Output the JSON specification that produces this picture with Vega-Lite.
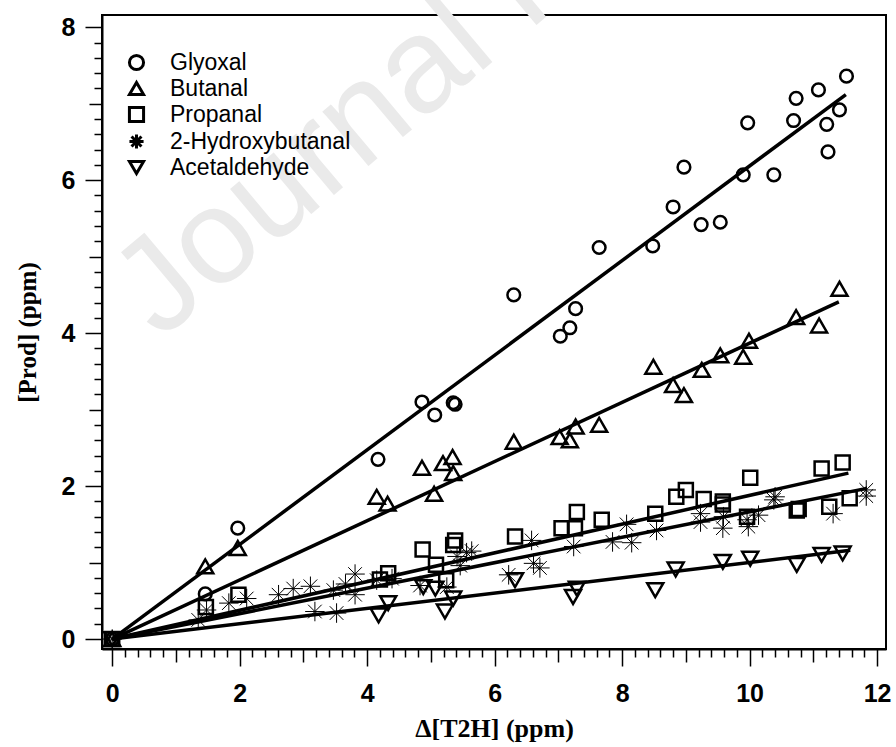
{
  "$schema": "https://vega.github.io/schema/vega-lite/v6.json",
  "width": 784,
  "height": 634,
  "autosize": "none",
  "padding": {"left": 102, "top": 15, "right": 10, "bottom": 98},
  "background": "white",
  "datasets": {
    "watermark": [{"label": "Journal Pre-proof", "x": 0.75, "y": 3.9}],
    "fits": [
      {"series": "Glyoxal", "x": 0, "y": 0}, {"series": "Glyoxal", "x": 11.51, "y": 7.12},
      {"series": "Butanal", "x": 0, "y": 0}, {"series": "Butanal", "x": 11.40, "y": 4.41},
      {"series": "Propanal", "x": 0, "y": 0}, {"series": "Propanal", "x": 11.55, "y": 2.17},
      {"series": "2-Hydroxybutanal", "x": 0, "y": 0}, {"series": "2-Hydroxybutanal", "x": 11.84, "y": 1.97},
      {"series": "Acetaldehyde", "x": 0, "y": 0}, {"series": "Acetaldehyde", "x": 11.58, "y": 1.16}
    ],
    "points": [
      {"series": "Glyoxal", "x": 0, "y": 0},
      {"series": "Glyoxal", "x": 1.46, "y": 0.59},
      {"series": "Glyoxal", "x": 1.97, "y": 1.45},
      {"series": "Glyoxal", "x": 4.17, "y": 2.35},
      {"series": "Glyoxal", "x": 4.86, "y": 3.10},
      {"series": "Glyoxal", "x": 5.06, "y": 2.93},
      {"series": "Glyoxal", "x": 5.35, "y": 3.09},
      {"series": "Glyoxal", "x": 5.38, "y": 3.07},
      {"series": "Glyoxal", "x": 6.30, "y": 4.50},
      {"series": "Glyoxal", "x": 7.03, "y": 3.96},
      {"series": "Glyoxal", "x": 7.18, "y": 4.07},
      {"series": "Glyoxal", "x": 7.27, "y": 4.32},
      {"series": "Glyoxal", "x": 7.64, "y": 5.12},
      {"series": "Glyoxal", "x": 8.48, "y": 5.14},
      {"series": "Glyoxal", "x": 8.80, "y": 5.65},
      {"series": "Glyoxal", "x": 8.97, "y": 6.17},
      {"series": "Glyoxal", "x": 9.24, "y": 5.42},
      {"series": "Glyoxal", "x": 9.54, "y": 5.45},
      {"series": "Glyoxal", "x": 9.90, "y": 6.07},
      {"series": "Glyoxal", "x": 9.97, "y": 6.75},
      {"series": "Glyoxal", "x": 10.38, "y": 6.07},
      {"series": "Glyoxal", "x": 10.69, "y": 6.78},
      {"series": "Glyoxal", "x": 10.73, "y": 7.07},
      {"series": "Glyoxal", "x": 11.08, "y": 7.18},
      {"series": "Glyoxal", "x": 11.21, "y": 6.73},
      {"series": "Glyoxal", "x": 11.23, "y": 6.37},
      {"series": "Glyoxal", "x": 11.41, "y": 6.92},
      {"series": "Glyoxal", "x": 11.52, "y": 7.36},
      {"series": "Butanal", "x": 0, "y": 0},
      {"series": "Butanal", "x": 1.46, "y": 0.95},
      {"series": "Butanal", "x": 1.97, "y": 1.19},
      {"series": "Butanal", "x": 4.15, "y": 1.86},
      {"series": "Butanal", "x": 4.32, "y": 1.77},
      {"series": "Butanal", "x": 4.86, "y": 2.24},
      {"series": "Butanal", "x": 5.05, "y": 1.90},
      {"series": "Butanal", "x": 5.19, "y": 2.30},
      {"series": "Butanal", "x": 5.34, "y": 2.38},
      {"series": "Butanal", "x": 5.35, "y": 2.17},
      {"series": "Butanal", "x": 6.30, "y": 2.58},
      {"series": "Butanal", "x": 7.02, "y": 2.64},
      {"series": "Butanal", "x": 7.18, "y": 2.60},
      {"series": "Butanal", "x": 7.27, "y": 2.78},
      {"series": "Butanal", "x": 7.64, "y": 2.80},
      {"series": "Butanal", "x": 8.49, "y": 3.56},
      {"series": "Butanal", "x": 8.80, "y": 3.32},
      {"series": "Butanal", "x": 8.97, "y": 3.19},
      {"series": "Butanal", "x": 9.25, "y": 3.52},
      {"series": "Butanal", "x": 9.54, "y": 3.71},
      {"series": "Butanal", "x": 9.90, "y": 3.69},
      {"series": "Butanal", "x": 9.99, "y": 3.90},
      {"series": "Butanal", "x": 10.73, "y": 4.21},
      {"series": "Butanal", "x": 11.09, "y": 4.10},
      {"series": "Butanal", "x": 11.41, "y": 4.58},
      {"series": "Propanal", "x": 0, "y": 0},
      {"series": "Propanal", "x": 1.47, "y": 0.42},
      {"series": "Propanal", "x": 1.98, "y": 0.58},
      {"series": "Propanal", "x": 4.20, "y": 0.78},
      {"series": "Propanal", "x": 4.33, "y": 0.86},
      {"series": "Propanal", "x": 4.87, "y": 1.17},
      {"series": "Propanal", "x": 5.08, "y": 0.97},
      {"series": "Propanal", "x": 5.24, "y": 0.77},
      {"series": "Propanal", "x": 5.35, "y": 1.23},
      {"series": "Propanal", "x": 5.38, "y": 1.29},
      {"series": "Propanal", "x": 6.32, "y": 1.34},
      {"series": "Propanal", "x": 7.05, "y": 1.45},
      {"series": "Propanal", "x": 7.26, "y": 1.45},
      {"series": "Propanal", "x": 7.29, "y": 1.66},
      {"series": "Propanal", "x": 7.68, "y": 1.56},
      {"series": "Propanal", "x": 8.52, "y": 1.64},
      {"series": "Propanal", "x": 8.85, "y": 1.86},
      {"series": "Propanal", "x": 9.00, "y": 1.95},
      {"series": "Propanal", "x": 9.28, "y": 1.83},
      {"series": "Propanal", "x": 9.58, "y": 1.80},
      {"series": "Propanal", "x": 9.58, "y": 1.76},
      {"series": "Propanal", "x": 9.96, "y": 1.60},
      {"series": "Propanal", "x": 10.01, "y": 2.11},
      {"series": "Propanal", "x": 10.74, "y": 1.68},
      {"series": "Propanal", "x": 10.77, "y": 1.70},
      {"series": "Propanal", "x": 11.13, "y": 2.23},
      {"series": "Propanal", "x": 11.25, "y": 1.73},
      {"series": "Propanal", "x": 11.46, "y": 2.31},
      {"series": "Propanal", "x": 11.57, "y": 1.84},
      {"series": "2-Hydroxybutanal", "x": 0, "y": 0},
      {"series": "2-Hydroxybutanal", "x": 1.35, "y": 0.25},
      {"series": "2-Hydroxybutanal", "x": 1.48, "y": 0.38},
      {"series": "2-Hydroxybutanal", "x": 1.83, "y": 0.47},
      {"series": "2-Hydroxybutanal", "x": 2.11, "y": 0.53},
      {"series": "2-Hydroxybutanal", "x": 2.61, "y": 0.58},
      {"series": "2-Hydroxybutanal", "x": 2.84, "y": 0.66},
      {"series": "2-Hydroxybutanal", "x": 3.11, "y": 0.69},
      {"series": "2-Hydroxybutanal", "x": 3.18, "y": 0.36},
      {"series": "2-Hydroxybutanal", "x": 3.47, "y": 0.64},
      {"series": "2-Hydroxybutanal", "x": 3.52, "y": 0.34},
      {"series": "2-Hydroxybutanal", "x": 3.66, "y": 0.72},
      {"series": "2-Hydroxybutanal", "x": 3.81, "y": 0.58},
      {"series": "2-Hydroxybutanal", "x": 3.81, "y": 0.85},
      {"series": "2-Hydroxybutanal", "x": 4.15, "y": 0.77},
      {"series": "2-Hydroxybutanal", "x": 4.39, "y": 0.79},
      {"series": "2-Hydroxybutanal", "x": 4.83, "y": 0.70},
      {"series": "2-Hydroxybutanal", "x": 5.25, "y": 0.68},
      {"series": "2-Hydroxybutanal", "x": 5.41, "y": 1.08},
      {"series": "2-Hydroxybutanal", "x": 5.46, "y": 0.96},
      {"series": "2-Hydroxybutanal", "x": 5.56, "y": 1.13},
      {"series": "2-Hydroxybutanal", "x": 5.64, "y": 1.15},
      {"series": "2-Hydroxybutanal", "x": 6.22, "y": 0.84},
      {"series": "2-Hydroxybutanal", "x": 6.58, "y": 1.29},
      {"series": "2-Hydroxybutanal", "x": 6.61, "y": 0.99},
      {"series": "2-Hydroxybutanal", "x": 6.71, "y": 0.93},
      {"series": "2-Hydroxybutanal", "x": 7.24, "y": 1.21},
      {"series": "2-Hydroxybutanal", "x": 7.85, "y": 1.27},
      {"series": "2-Hydroxybutanal", "x": 8.07, "y": 1.50},
      {"series": "2-Hydroxybutanal", "x": 8.15, "y": 1.26},
      {"series": "2-Hydroxybutanal", "x": 8.54, "y": 1.42},
      {"series": "2-Hydroxybutanal", "x": 9.23, "y": 1.64},
      {"series": "2-Hydroxybutanal", "x": 9.23, "y": 1.53},
      {"series": "2-Hydroxybutanal", "x": 9.58, "y": 1.45},
      {"series": "2-Hydroxybutanal", "x": 9.59, "y": 1.60},
      {"series": "2-Hydroxybutanal", "x": 9.96, "y": 1.56},
      {"series": "2-Hydroxybutanal", "x": 9.98, "y": 1.47},
      {"series": "2-Hydroxybutanal", "x": 10.14, "y": 1.62},
      {"series": "2-Hydroxybutanal", "x": 10.38, "y": 1.82},
      {"series": "2-Hydroxybutanal", "x": 10.40, "y": 1.86},
      {"series": "2-Hydroxybutanal", "x": 11.31, "y": 1.64},
      {"series": "2-Hydroxybutanal", "x": 11.83, "y": 1.87},
      {"series": "2-Hydroxybutanal", "x": 11.83, "y": 1.95},
      {"series": "Acetaldehyde", "x": 0, "y": 0},
      {"series": "Acetaldehyde", "x": 4.18, "y": 0.31},
      {"series": "Acetaldehyde", "x": 4.33, "y": 0.47},
      {"series": "Acetaldehyde", "x": 4.88, "y": 0.68},
      {"series": "Acetaldehyde", "x": 5.07, "y": 0.66},
      {"series": "Acetaldehyde", "x": 5.22, "y": 0.36},
      {"series": "Acetaldehyde", "x": 5.35, "y": 0.53},
      {"series": "Acetaldehyde", "x": 6.32, "y": 0.77},
      {"series": "Acetaldehyde", "x": 7.23, "y": 0.55},
      {"series": "Acetaldehyde", "x": 7.29, "y": 0.66},
      {"series": "Acetaldehyde", "x": 8.52, "y": 0.64},
      {"series": "Acetaldehyde", "x": 8.84, "y": 0.91},
      {"series": "Acetaldehyde", "x": 9.58, "y": 1.01},
      {"series": "Acetaldehyde", "x": 10.01, "y": 1.05},
      {"series": "Acetaldehyde", "x": 10.74, "y": 0.97},
      {"series": "Acetaldehyde", "x": 11.13, "y": 1.10},
      {"series": "Acetaldehyde", "x": 11.46, "y": 1.12}
    ]
  },
  "encoding": {
    "x": {
      "field": "x",
      "type": "quantitative",
      "scale": {"domain": [-0.16, 12.14], "nice": false, "zero": false},
      "axis": {
        "title": "Δ[T2H] (ppm)",
        "titleFont": "Liberation Serif",
        "titleFontWeight": "bold",
        "titleFontSize": 26,
        "titleX": 392,
        "titleY": 87,
        "titleAlign": "center",
        "titleBaseline": "alphabetic",
        "values": [0,0.2,0.4,0.6,0.8,1,1.2,1.4,1.6,1.8,2,2.2,2.4,2.6,2.8,3,3.2,3.4,3.6,3.8,4,4.2,4.4,4.6,4.8,5,5.2,5.4,5.6,5.8,6,6.2,6.4,6.6,6.8,7,7.2,7.4,7.6,7.8,8,8.2,8.4,8.6,8.8,9,9.2,9.4,9.6,9.8,10,10.2,10.4,10.6,10.8,11,11.2,11.4,11.6,11.8,12],
        "labelExpr": "abs(datum.value/2 - round(datum.value/2)) < 0.01 ? format(datum.value, 'd') : ''",
        "tickSize": {
          "condition": [
            {"test": "abs(datum.value/2 - round(datum.value/2)) < 0.01", "value": 17},
            {"test": "abs(datum.value - round(datum.value)) < 0.01", "value": 13}
          ],
          "value": 8
        },
        "labelPadding": 15
      }
    },
    "y": {
      "field": "y",
      "type": "quantitative",
      "scale": {"domain": [-0.13, 8.16], "nice": false, "zero": false},
      "axis": {
        "title": "[Prod] (ppm)",
        "titleFont": "Liberation Serif",
        "titleFontWeight": "bold",
        "titleFontSize": 25,
        "titleAngle": -90,
        "titleX": -75,
        "titleY": 317,
        "titleAlign": "center",
        "titleBaseline": "middle",
        "values": [0,0.2,0.4,0.6,0.8,1,1.2,1.4,1.6,1.8,2,2.2,2.4,2.6,2.8,3,3.2,3.4,3.6,3.8,4,4.2,4.4,4.6,4.8,5,5.2,5.4,5.6,5.8,6,6.2,6.4,6.6,6.8,7,7.2,7.4,7.6,7.8,8],
        "labelExpr": "abs(datum.value/2 - round(datum.value/2)) < 0.01 ? format(datum.value, 'd') : ''",
        "tickSize": {
          "condition": [
            {"test": "abs(datum.value/2 - round(datum.value/2)) < 0.01", "value": 17},
            {"test": "abs(datum.value - round(datum.value)) < 0.01", "value": 13}
          ],
          "value": 8
        },
        "labelPadding": 10
      }
    }
  },
  "layer": [
    {
      "data": {"name": "watermark"},
      "mark": {
        "type": "text",
        "font": "Liberation Sans",
        "fontSize": 135,
        "angle": -40,
        "align": "left",
        "baseline": "alphabetic",
        "color": "#eaeaea"
      },
      "encoding": {"text": {"field": "label"}}
    },
    {
      "data": {"name": "fits"},
      "mark": {"type": "line", "color": "black", "strokeWidth": 3.5},
      "encoding": {"detail": {"field": "series"}}
    },
    {
      "data": {"name": "points"},
      "mark": {"type": "point", "filled": false, "color": "black", "opacity": 1},
      "encoding": {
        "shape": {
          "field": "series",
          "type": "nominal",
          "scale": {
            "domain": ["Glyoxal", "Butanal", "Propanal", "2-Hydroxybutanal", "Acetaldehyde"],
            "range": ["circle", "triangle-up", "square", "M-1,0L1,0M0,-1L0,1M-0.7,-0.7L0.7,0.7M-0.7,0.7L0.7,-0.7", "triangle-down"]
          },
          "legend": {
            "title": null,
            "orient": "none",
            "legendX": 23,
            "legendY": 36,
            "padding": 0,
            "symbolSize": 200,
            "symbolStrokeWidth": 3,
            "symbolStrokeColor": "black",
            "symbolFillColor": "transparent",
            "labelFont": "Liberation Sans",
            "labelFontSize": 23,
            "labelColor": "black",
            "labelLimit": 0,
            "labelOffset": 22,
            "rowPadding": 0
          }
        },
        "size": {
          "condition": [
            {"test": "datum.series === 'Glyoxal'", "value": 160},
            {"test": "datum.series === 'Propanal'", "value": 196},
            {"test": "datum.series === '2-Hydroxybutanal'", "value": 380}
          ],
          "value": 256
        },
        "strokeWidth": {
          "condition": {"test": "datum.series === '2-Hydroxybutanal'", "value": 1},
          "value": 2.5
        }
      }
    }
  ],
  "config": {
    "view": {"stroke": "black", "strokeWidth": 2},
    "axis": {
      "grid": false,
      "domainColor": "black",
      "domainWidth": 2,
      "tickColor": "black",
      "tickWidth": 1.5,
      "labelColor": "black",
      "labelFont": "Liberation Sans",
      "labelFontWeight": "bold",
      "labelFontSize": 25,
      "titleColor": "black"
    }
  }
}
